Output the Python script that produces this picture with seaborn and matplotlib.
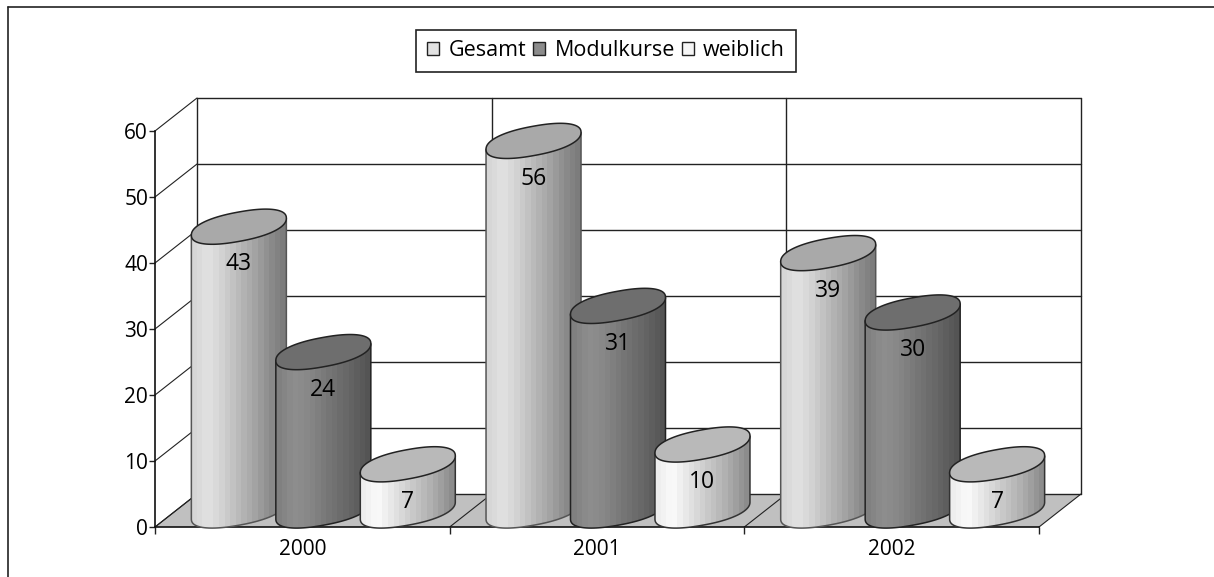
import numpy as np
import pandas as pd
import seaborn as sns
import matplotlib.pyplot as plt
from matplotlib.colors import LinearSegmentedColormap
from matplotlib.lines import Line2D
from matplotlib.patches import Polygon

# ==[ Data ]==============================================================
years = ["2000", "2001", "2002"]
gesamt = [43, 56, 39]
modulkurse = [24, 31, 30]
weiblich = [7, 10, 7]
series_names = ["Gesamt", "Modulkurse", "weiblich"]

# ==[ Styles ]============================================================
W, H = 1214, 577
swatch = ["#e2e2e2", "#8c8c8c", "#f6f6f6"]
top_colors = ["#a9a9a9", "#6e6e6e", "#b9b9b9"]
edge_colors = ["#555555", "#222222", "#333333"]
shades = [
    ["#d6d6d6", "#e2e2e2", "#d0d0d0", "#bababa", "#a6a6a6", "#8e8e8e", "#7c7c7c"],
    ["#808080", "#8e8e8e", "#888888", "#7a7a7a", "#6e6e6e", "#626262", "#545454"],
    ["#eeeeee", "#fbfbfb", "#e6e6e6", "#d0d0d0", "#bcbcbc", "#a6a6a6", "#8c8c8c"],
]

sns.set_style("white")
plt.rcParams["font.family"] = ["Open Sans", "DejaVu Sans"]
plt.rcParams["text.color"] = "black"

df = pd.DataFrame({
    "year": years * 3,
    "series": np.repeat(series_names, 3),
    "value": gesamt + modulkurse + weiblich,
})

fig = plt.figure(figsize=(W / 100, H / 100), dpi=100)
ax = fig.add_axes([155 / W, 1 - 527 / H, 884 / W, 396 / H])

sns.barplot(data=df, x="year", y="value", hue="series", order=years,
            hue_order=series_names, palette=swatch, width=0.86, gap=0.37,
            saturation=1, errorbar=None, edgecolor="#222222", linewidth=1, ax=ax)
ax.set_xlim(-0.5, 2.5)
ax.set_ylim(0, 60)
x_px = 884 / 3
y_px = 396 / 60

# depth of the 3d box, in data units
DX = 42 / x_px
DY = 33 / y_px

sns.move_legend(ax, "center", bbox_to_anchor=(606 / W, 1 - 51 / H),
                bbox_transform=fig.transFigure, ncol=3, title=None, frameon=True,
                fontsize=15.5, fancybox=False, framealpha=1, edgecolor="#222222",
                handlelength=0.55, handleheight=0.55, handletextpad=0.45,
                columnspacing=0.32, borderpad=0.5, borderaxespad=0)
ax.get_legend().get_frame().set_linewidth(1.2)
for label in ax.get_legend().get_texts():
    label.set_color("black")

# --< walls and floor >---------------------------------------------------
left, right = ax.get_xlim()
line_kw = dict(color="#222222", lw=1, clip_on=False, zorder=1.5)
ax.add_patch(Polygon([(left, 0), (right, 0), (right + DX, DY), (left + DX, DY)],
                     closed=True, fc="#c0c0c0", ec="none", clip_on=False, zorder=1))
for tick in ax.get_yticks():
    if tick > 60:
        continue
    ax.plot([left, left + DX], [tick, tick + DY], **{**line_kw, "lw": 0.8})
    ax.plot([left + DX, right + DX], [tick + DY, tick + DY], **line_kw)
for pos in np.arange(left, right + 0.5):
    ax.plot([pos, pos + DX], [0, DY], **{**line_kw, "lw": 0.8})
    ax.plot([pos + DX, pos + DX], [DY, 60 + DY], **line_kw)

# --< cylinders, built on the bars seaborn placed >-----------------------
a = 47.5 / x_px
b = 17 / y_px
phi = np.radians(60)
squircle = 0.88


def rim(cx, cy, t):
    u = np.sign(np.cos(t)) * np.abs(np.cos(t)) ** squircle
    v = np.sign(np.sin(t)) * np.abs(np.sin(t)) ** squircle
    return np.column_stack([cx + a * u, cy + b * (np.cos(phi) * u + np.sin(phi) * v)])


z = 3.0
for i, container in enumerate(ax.containers):
    cmap = LinearSegmentedColormap.from_list("shade" + str(i), shades[i], N=17)
    for bar in container:
        value = bar.get_height()
        cx = bar.get_x() + bar.get_width() / 2 + DX / 2
        top_y = value + DY / 2
        base_y = DY / 2
        bar.set_visible(False)

        lower = np.linspace(np.pi, 2 * np.pi, 80)
        base = rim(cx, base_y, lower)
        body_pts = np.vstack([rim(cx, top_y, np.array([np.pi])), base,
                              rim(cx, top_y, np.array([0.0]))])
        body = Polygon(body_pts, closed=True, fc="none", ec=edge_colors[i], lw=1.1,
                       clip_on=False, zorder=z + 0.2)
        ax.add_patch(body)
        grad = ax.imshow(np.linspace(0, 1, 17)[None, :], cmap=cmap, aspect="auto",
                         interpolation="nearest", zorder=z,
                         extent=(cx - a, cx + a, 0 - b, top_y + b))
        # images stop at the axes box otherwise, the last cylinder sticks out
        grad.set_clip_box(fig.bbox)
        grad.set_clip_path(body)

        cap = Polygon(rim(cx, top_y, np.linspace(0, 2 * np.pi, 160)), closed=True,
                      fc=top_colors[i], ec="#222222", lw=1.1, clip_on=False,
                      zorder=z + 0.3)
        ax.add_patch(cap)
        ax.text(cx, value - 3.2, f"{value:.0f}", ha="center", va="center",
                fontsize=16.5, color="black", zorder=50)
        z += 1

ax.set_xlim(left, right)
ax.set_ylim(0, 60)

# --< axes >--------------------------------------------------------------
ax.set_xlabel("")
ax.set_ylabel("")
ax.set_yticks(np.arange(0, 61, 10))
ax.set_xticks(np.arange(left, right + 0.5), minor=True)
ax.tick_params(axis="x", which="major", length=0, labelsize=15, pad=8.5,
               labelcolor="black")
ax.tick_params(axis="x", which="minor", length=5, width=1, color="#222222",
               direction="out", bottom=True)
ax.tick_params(axis="y", length=4.5, width=1, color="#222222", labelsize=15,
               pad=0.5, left=True, labelcolor="black")
sns.despine(ax=ax)
for side in ["left", "bottom"]:
    ax.spines[side].set_color("#111111")
    ax.spines[side].set_linewidth(1.2)
    ax.spines[side].set_zorder(2)

# --< outer frame, open on the right and at the bottom >------------------
fig.add_artist(Line2D([8 / W, 1], [1 - 7 / H, 1 - 7 / H], color="#222222", lw=1.2))
fig.add_artist(Line2D([8 / W, 8 / W], [0, 1 - 7 / H], color="#222222", lw=1.2))

fig.savefig("out.png", dpi=100)
